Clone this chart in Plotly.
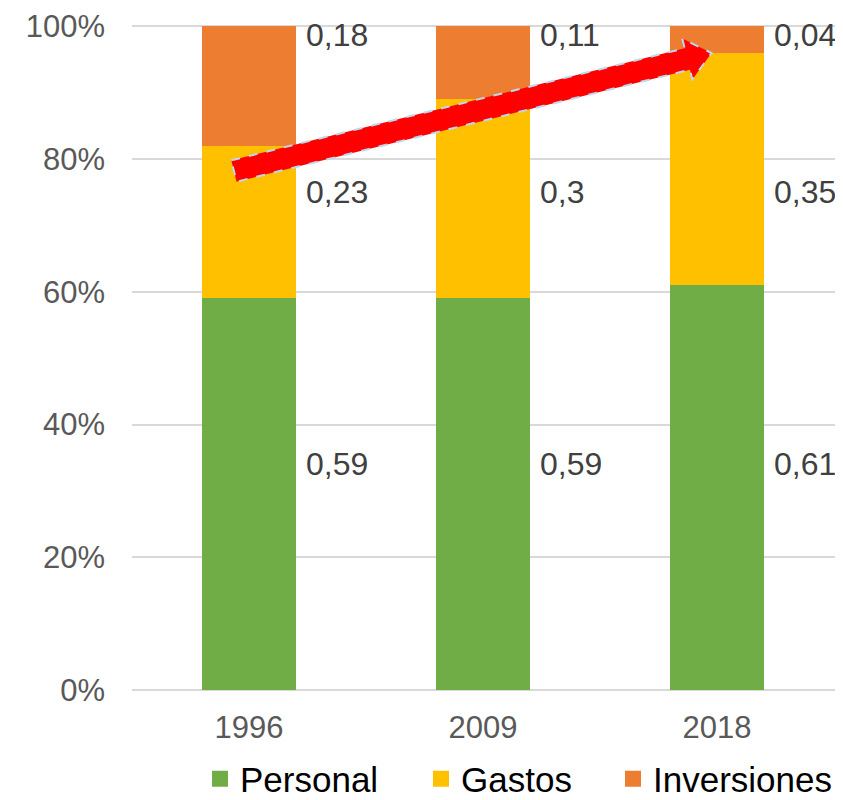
import plotly.graph_objects as go
import math

years = ["1996", "2009", "2018"]
personal = [0.59, 0.59, 0.61]
gastos = [0.23, 0.30, 0.35]
inversiones = [0.18, 0.11, 0.04]
series_names = ["Personal", "Gastos", "Inversiones"]
colors = ["#70AD47", "#FFC000", "#ED7D31"]
y_ticks = [0, 20, 40, 60, 80, 100]
y_ticktext = ["0%", "20%", "40%", "60%", "80%", "100%"]

# page is 843x800; the page body adds an 8px margin, so the figure is 835x792
PAGE_W, PAGE_H = 843, 800
OFF = 8
W, H = PAGE_W - OFF, PAGE_H - OFF
PL, PR, PT, PB = 132, 838.5, 25, 690   # plot area in page pixels
ML, MT = PL - OFF, PT - OFF
MR, MB = PAGE_W - PR, PAGE_H - PB
PW = PR - PL
PH = PB - PT
FONT = "Liberation Sans, Arial"

fig = go.Figure()
legend_ids = ["legend", "legend2", "legend3"]
for name, vals, col, lg in zip(series_names, [personal, gastos, inversiones], colors, legend_ids):
    fig.add_trace(go.Bar(
        x=years, y=[v * 100 for v in vals], name=name, showlegend=False,
        marker=dict(color=col, line=dict(width=0)),
    ))
    # legend entry with a larger square swatch
    fig.add_trace(go.Scatter(
        x=[None], y=[None], mode="markers", name=name, legend=lg, showlegend=True,
        marker=dict(symbol="square", size=19, color=col, line=dict(width=0)),
    ))

# data labels to the right of each bar
label_rows = [34, 75, 98.7]  # label vertical positions (% units) per series
for vals, ly in zip([personal, gastos, inversiones], label_rows):
    for i, v in enumerate(vals):
        txt = ("%g" % v).replace(".", ",")
        fig.add_annotation(
            x=i, y=ly, xref="x", yref="y", text=txt, showarrow=False,
            xanchor="left", yanchor="middle", xshift=55,
            font=dict(family=FONT, size=32, color="#404040"),
        )

# thick red arrow (decorative) built in page-pixel space, converted to paper
def to_paper(px, py):
    return ((px - PL) / PW, (PB - py) / PH)

T = (234.0, 171.0)
P = (712.0, 53.0)
dx, dy = P[0] - T[0], P[1] - T[1]
L = math.hypot(dx, dy)
u = (dx / L, dy / L)
n = (-u[1], u[0])
B = (P[0] - 25 * u[0], P[1] - 25 * u[1])
hw, hh = 11, 21
pts = [
    (T[0] - hw * n[0], T[1] - hw * n[1]),
    (B[0] - hw * n[0], B[1] - hw * n[1]),
    (B[0] - hh * n[0], B[1] - hh * n[1]),
    P,
    (B[0] + hh * n[0], B[1] + hh * n[1]),
    (B[0] + hw * n[0], B[1] + hw * n[1]),
    (T[0] + hw * n[0], T[1] + hw * n[1]),
]
path = ""
for k, (px, py) in enumerate(pts):
    xp, yp = to_paper(px, py)
    path += ("M" if k == 0 else "L") + f"{xp:.5f},{yp:.5f} "
path += "Z"
fig.add_shape(type="path", path=path, xref="paper", yref="paper",
              fillcolor="#FF0000", line=dict(color="#BDD7EE", width=2, dash="dash"),
              layer="above")

legend_text_x = [240, 461, 653]  # page x where legend text starts
legend_center_y = 779            # page y of legend row centre
legend_common = dict(orientation="h", xref="container", yref="container",
                     xanchor="left", yanchor="middle",
                     y=(PAGE_H - legend_center_y) / H,
                     font=dict(family=FONT, size=35, color="#000000"),
                     itemsizing="trace", bgcolor="rgba(0,0,0,0)", borderwidth=0)
legends = {}
for lg, tx in zip(legend_ids, legend_text_x):
    legends[lg] = dict(legend_common, x=(tx - OFF - 40) / W)

fig.update_layout(
    width=W, height=H,
    margin=dict(l=ML, r=MR, t=MT, b=MB, autoexpand=False),
    barmode="stack", bargap=0.6,
    plot_bgcolor="white", paper_bgcolor="white",
    font=dict(family=FONT, color="#595959"),
    showlegend=True,
    **legends,
)
fig.update_xaxes(showgrid=False, tickfont=dict(family=FONT, size=31, color="#595959"),
                 showline=False, ticks="", ticklabelstandoff=16, automargin=False)
fig.update_yaxes(range=[0, 100.2], tickmode="array", tickvals=y_ticks, ticktext=y_ticktext,
                 showgrid=True, gridcolor="#D9D9D9", gridwidth=1.5,
                 zeroline=True, zerolinecolor="#D9D9D9", zerolinewidth=1.5,
                 tickfont=dict(family=FONT, size=31, color="#595959"), ticks="",
                 ticklabelstandoff=26, automargin=False)

fig.write_html("out.html")
